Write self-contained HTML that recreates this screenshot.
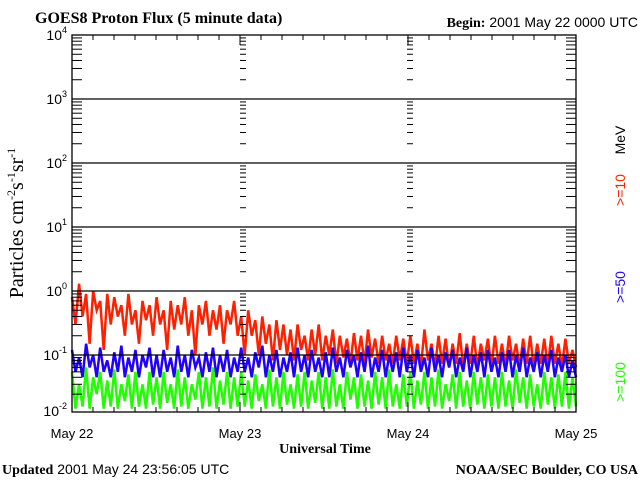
<!DOCTYPE html>
<html><head><meta charset="utf-8"><style>
body{margin:0;background:#fff;width:640px;height:480px;overflow:hidden}
svg text{font-family:"Liberation Sans",sans-serif}
.serif{font-family:"Liberation Serif",serif}
</style></head><body>
<svg id="c" width="640" height="480" xmlns="http://www.w3.org/2000/svg">
<text x="35" y="23" class="serif" font-weight="bold" font-size="16">GOES8 Proton Flux (5 minute data)</text>
<text x="638" y="27" text-anchor="end" font-size="14"><tspan class="serif" font-weight="bold">Begin:</tspan> 2001 May 22 0000 UTC</text>
<text transform="translate(23,223) rotate(-90)" text-anchor="middle" class="serif" font-size="20">Particles cm<tspan font-size="12" dy="-8">-2</tspan><tspan dy="8">s</tspan><tspan font-size="12" dy="-8">-1</tspan><tspan dy="8">sr</tspan><tspan font-size="12" dy="-8">-1</tspan></text>
<text x="325" y="453" text-anchor="middle" class="serif" font-weight="bold" font-size="14">Universal Time</text>
<text x="2" y="474" font-size="14"><tspan class="serif" font-weight="bold">Updated</tspan> 2001 May 24 23:56:05 UTC</text>
<text x="638" y="474" text-anchor="end" class="serif" font-weight="bold" font-size="14">NOAA/SEC Boulder, CO USA</text>
<text transform="translate(625,140) rotate(-90)" text-anchor="middle" font-size="14" fill="#000">MeV</text>
<text transform="translate(625,190) rotate(-90)" text-anchor="middle" font-size="14" fill="#ff2000">&gt;=10</text>
<text transform="translate(625,287) rotate(-90)" text-anchor="middle" font-size="14" fill="#2000ff">&gt;=50</text>
<text transform="translate(625,382) rotate(-90)" text-anchor="middle" font-size="14" fill="#20ff00">&gt;=100</text>
<g id="plot"></g>
</svg>
<script>
const days=["May 22","May 23","May 24","May 25"];
const decades=[-2,-1,0,1,2,3,4];
const red=[0.8,0.3,1.3,0.4,0.9,0.15,1.0,0.5,0.7,0.12,0.9,0.3,0.8,0.4,0.6,0.2,0.9,0.3,0.5,0.15,0.7,0.35,0.6,0.2,0.8,0.3,0.5,0.12,0.7,0.25,0.6,0.3,0.8,0.2,0.5,0.1,0.6,0.3,0.7,0.2,0.5,0.25,0.6,0.15,0.5,0.3,0.7,0.2,
0.4,0.1,0.5,0.2,0.35,0.1,0.4,0.15,0.3,0.08,0.35,0.12,0.3,0.1,0.25,0.08,0.3,0.12,0.2,0.08,0.25,0.1,0.3,0.08,0.2,0.1,0.25,0.07,0.2,0.09,0.18,0.07,0.22,0.08,0.2,0.07,0.25,0.09,0.18,0.07,0.2,0.08,0.15,0.07,0.2,0.08,0.18,0.07,
0.2,0.07,0.15,0.06,0.25,0.08,0.15,0.06,0.2,0.07,0.18,0.06,0.15,0.07,0.22,0.06,0.15,0.07,0.2,0.06,0.15,0.08,0.18,0.06,0.2,0.07,0.15,0.06,0.2,0.08,0.15,0.06,0.18,0.07,0.2,0.06,0.15,0.07,0.18,0.06,0.2,0.07,0.15,0.06,0.18,0.07,0.12,0.06];
const blue=[0.12,0.05,0.09,0.04,0.15,0.06,0.1,0.04,0.13,0.05,0.08,0.04,0.11,0.05,0.14,0.04,0.09,0.05,0.12,0.04,0.1,0.06,0.13,0.04,
0.1,0.04,0.12,0.05,0.09,0.04,0.14,0.05,0.1,0.04,0.12,0.06,0.09,0.04,0.11,0.05,0.13,0.04,0.1,0.05,0.12,0.04,0.09,0.05,
0.13,0.05,0.09,0.04,0.11,0.06,0.14,0.04,0.1,0.05,0.12,0.04,0.09,0.05,0.11,0.04,0.13,0.05,0.1,0.04,0.12,0.05,0.09,0.04,
0.11,0.04,0.13,0.05,0.09,0.04,0.12,0.06,0.1,0.04,0.11,0.05,0.14,0.04,0.09,0.05,0.12,0.04,0.1,0.05,0.11,0.04,0.13,0.05,
0.1,0.04,0.12,0.05,0.09,0.04,0.13,0.05,0.1,0.04,0.11,0.06,0.12,0.04,0.09,0.05,0.13,0.04,0.1,0.05,0.11,0.04,0.12,0.05,
0.09,0.04,0.11,0.05,0.12,0.04,0.1,0.05,0.13,0.04,0.09,0.05,0.11,0.04,0.1,0.05,0.12,0.04,0.09,0.05,0.1,0.04,0.08,0.04];
const green=[0.05,0.011,0.03,0.012,0.06,0.011,0.04,0.02,0.05,0.011,0.035,0.012,0.055,0.011,0.03,0.015,0.045,0.011,0.05,0.012,0.03,0.011,0.05,0.013,
0.04,0.011,0.05,0.014,0.03,0.011,0.055,0.012,0.04,0.011,0.03,0.016,0.05,0.011,0.04,0.012,0.06,0.011,0.035,0.013,0.05,0.011,0.04,0.012,
0.05,0.012,0.035,0.011,0.045,0.015,0.03,0.011,0.055,0.012,0.04,0.011,0.05,0.013,0.03,0.011,0.045,0.012,0.05,0.011,0.035,0.014,0.05,0.011,
0.04,0.011,0.055,0.012,0.03,0.011,0.05,0.016,0.04,0.011,0.045,0.012,0.035,0.011,0.05,0.013,0.04,0.011,0.055,0.012,0.03,0.011,0.045,0.012,
0.05,0.011,0.035,0.013,0.05,0.011,0.04,0.012,0.055,0.011,0.03,0.015,0.045,0.011,0.05,0.012,0.035,0.011,0.05,0.013,0.04,0.011,0.045,0.012,
0.04,0.011,0.05,0.012,0.035,0.011,0.055,0.014,0.04,0.011,0.045,0.012,0.03,0.011,0.05,0.013,0.04,0.011,0.045,0.012,0.05,0.011,0.04,0.012];
const X0=72,X1=576,Y4=35;
function xs(i,n){return X0+(X1-X0)*i/n;}
function ys(v){const l=Math.log10(Math.max(v,0.01));return l>=-1?Y4+(4-l)*64:355+(-1-l)*56;}
const NS="http://www.w3.org/2000/svg",g=document.getElementById('plot');
function mk(t,a){const e=document.createElementNS(NS,t);for(const k in a)e.setAttribute(k,a[k]);g.appendChild(e);return e;}
function series(name,arr,col){const p=mk('polyline',{points:arr.map((v,i)=>xs(i,arr.length-1)+','+ys(v)).join(' '),fill:'none',stroke:col,'stroke-width':2.5,'stroke-linejoin':'miter'});

}
series('series-ge10',red,'#ff2000');
series('series-ge50',blue,'#2000ff');
series('series-ge100',green,'#20ff00');
decades.forEach(d=>{const y=ys(Math.pow(10,d));
if(d>-2&&d<4){const l=mk('line',{x1:X0,x2:X1,y1:y,y2:y,stroke:'#000','stroke-width':1.3});

}
const t=mk('text',{x:X0-5,y:y+5,'text-anchor':'end','font-size':14});


t.innerHTML='10<tspan font-size="9" dy="-7">'+d+'</tspan>';
if(d<4){for(let m=2;m<10;m++){const ym=ys(m*Math.pow(10,d));
[[X0,X0+10],[X1-10,X1],[240,246],[407,413]].forEach(([a,b])=>mk('line',{x1:a,x2:b,y1:ym,y2:ym,stroke:'#000','stroke-width':1}));}}});
days.forEach((d,i)=>{const x=xs(i,3);const t=mk('text',{x:x,y:438,'text-anchor':'middle','font-size':13});


t.textContent=d;});
for(let h=0;h<=24;h++){const x=xs(h,24),big=h%8==0;mk('line',{x1:x,x2:x,y1:412,y2:412-(big?10:5),stroke:'#000'});mk('line',{x1:x,x2:x,y1:35,y2:35+(big?10:5),stroke:'#000'});}
const fr=mk('rect',{x:X0,y:35,width:X1-X0,height:377,fill:'none',stroke:'#000','stroke-width':1.3});


</script>
</body></html>
